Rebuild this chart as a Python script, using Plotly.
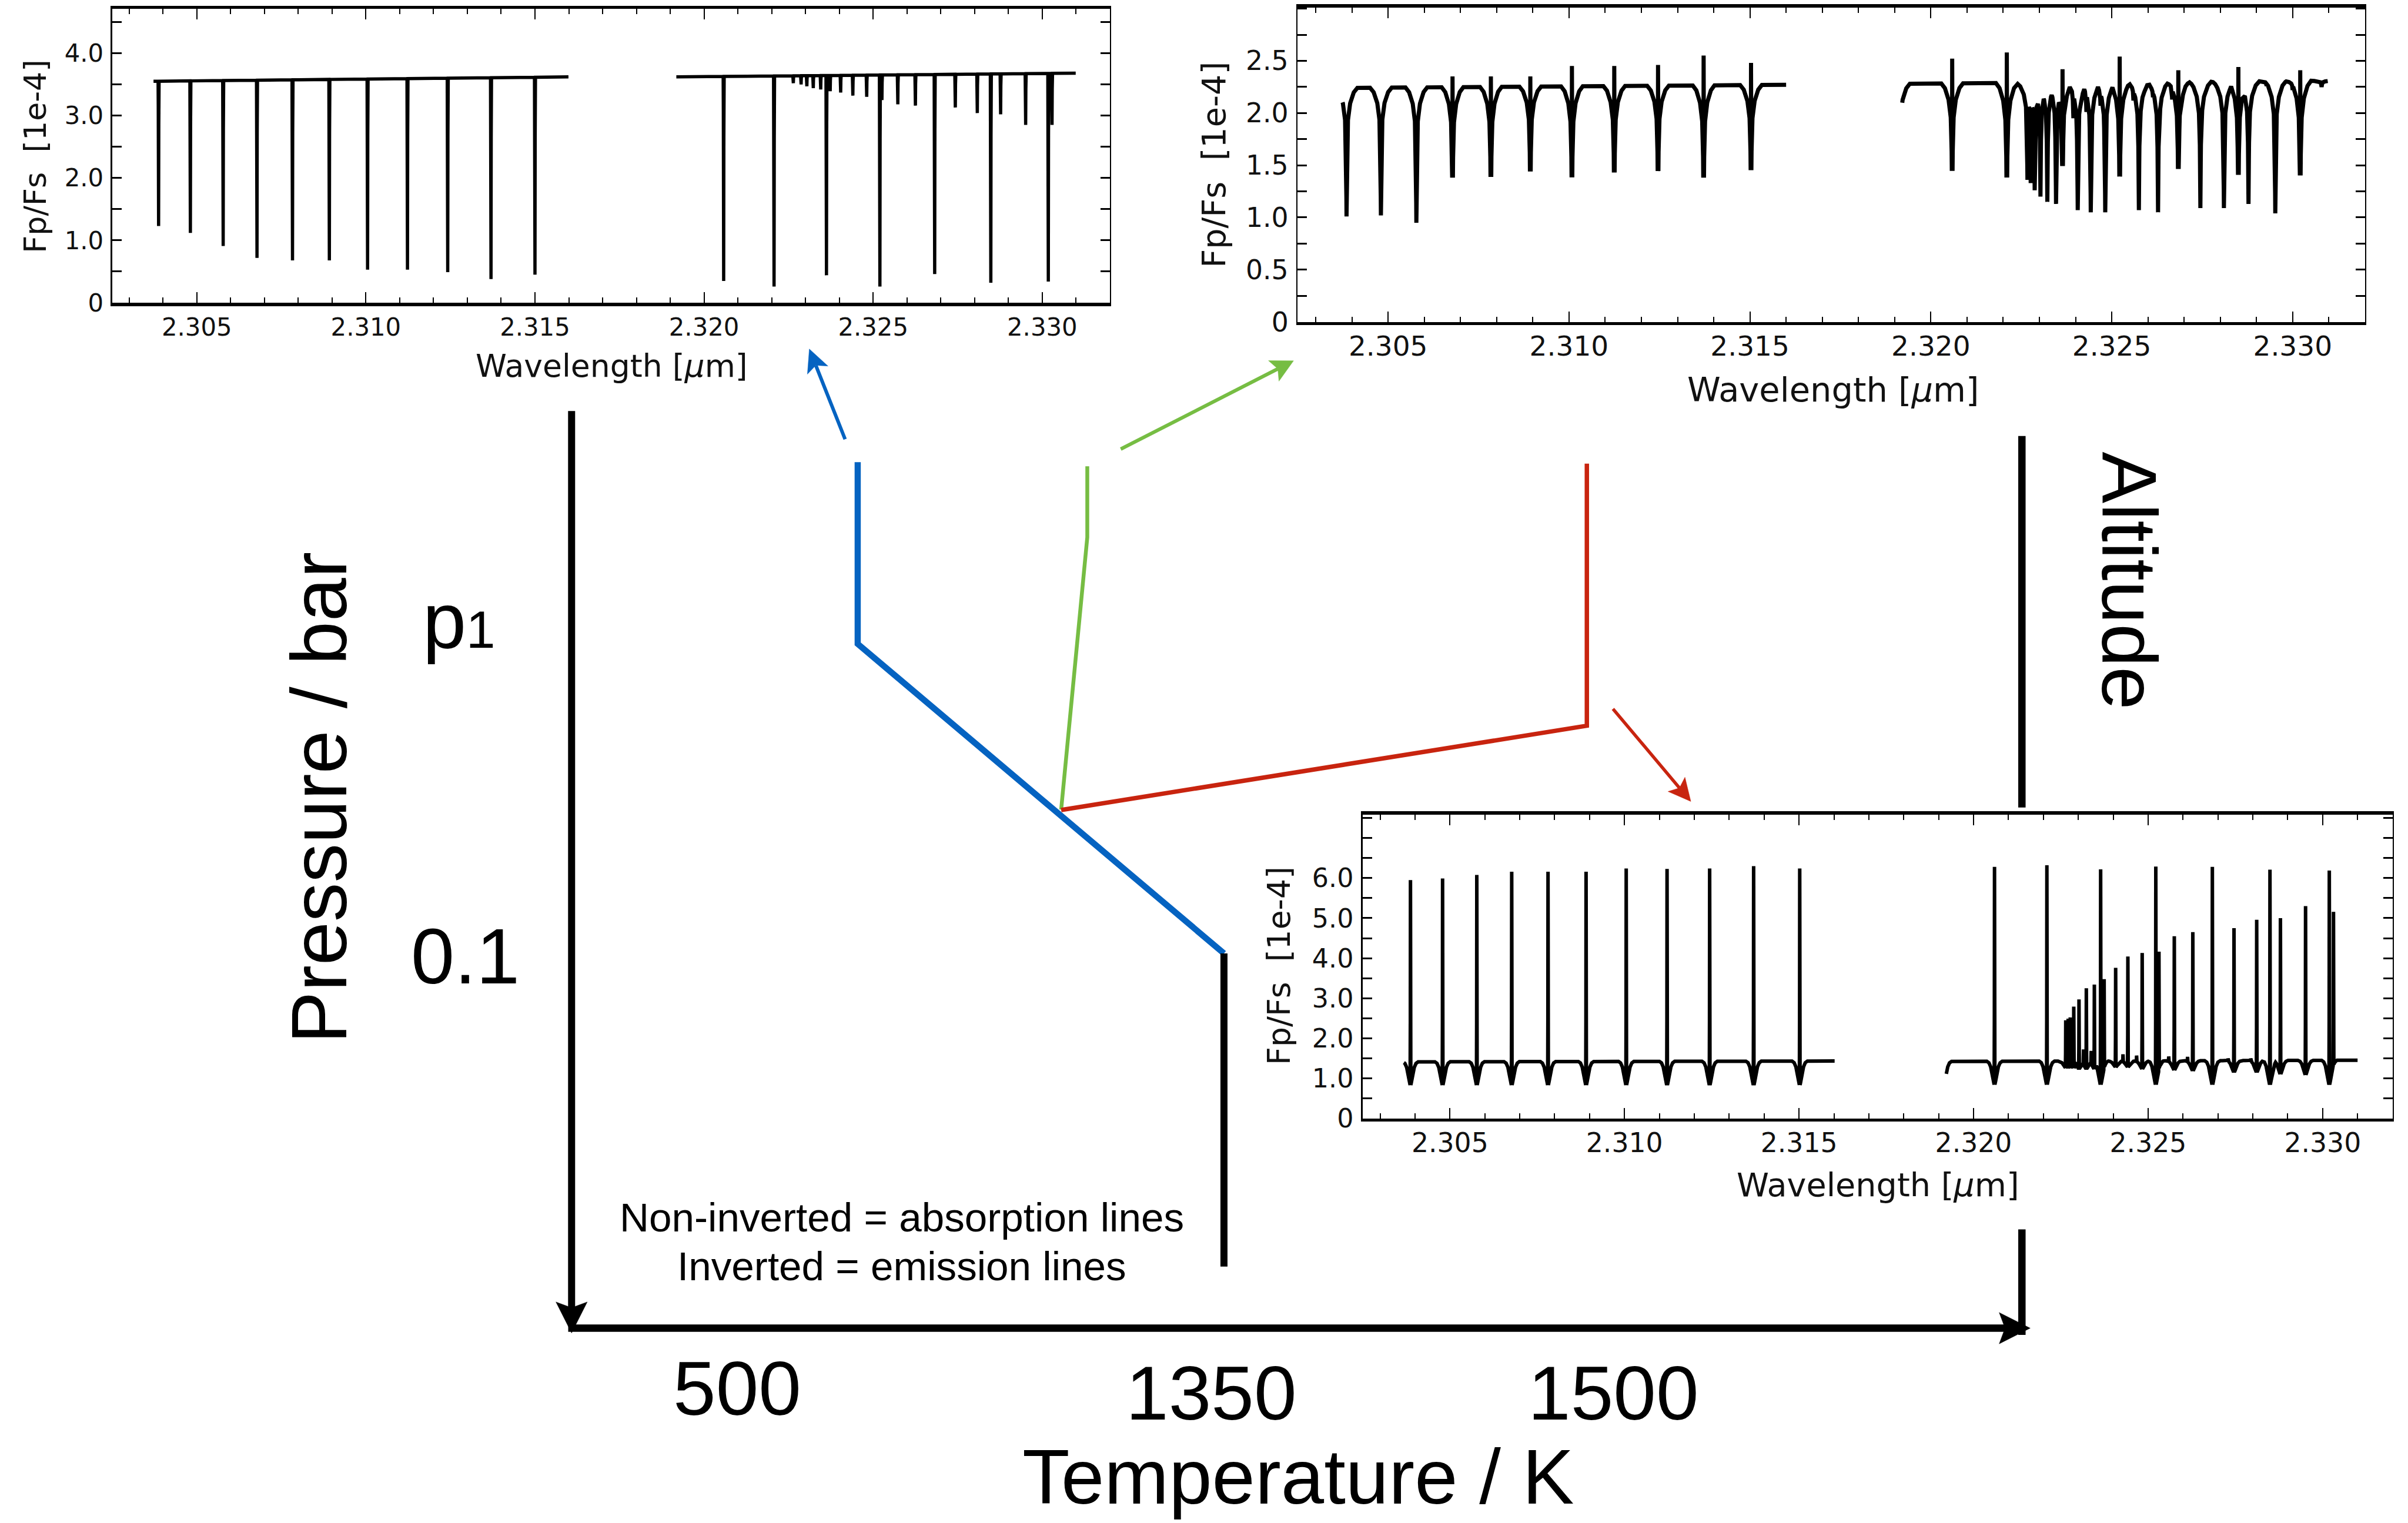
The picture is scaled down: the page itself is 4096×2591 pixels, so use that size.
import numpy as np
import plotly.graph_objects as go

PW, PH = 1568.0, 992.0
W, H = 4096, 2591
K = W / PW

WL_RANGE = [2.3025, 2.332]
WL_TICKS = [2.305, 2.310, 2.315, 2.320, 2.325, 2.330]
WL_TICKTEXT = ["2.305", "2.310", "2.315", "2.320", "2.325", "2.330"]

a_seg_lo = [2.30372, 2.31918]
a_seg_hi = [2.31599, 2.33099]
a_cont_lo = [3.55, 3.62]
a_cont_hi = [3.62, 3.68]
a_line_wl = [2.30387, 2.30481, 2.30578, 2.30678, 2.30783, 2.30892, 2.31005, 2.31123,
             2.31242, 2.31370, 2.31500,
             2.32058, 2.32207, 2.32264, 2.32287, 2.32304, 2.32323, 2.32345, 2.32362,
             2.32373, 2.32404, 2.32440, 2.32481, 2.32520, 2.32526, 2.32573, 2.32625,
             2.32682, 2.32743, 2.32808, 2.32848, 2.32877, 2.32951, 2.33018, 2.33029]
a_line_min = [1.23, 1.12, 0.91, 0.72, 0.68, 0.68, 0.53, 0.53, 0.49, 0.38, 0.45,
              0.35, 0.26, 3.52, 3.50, 3.47, 3.44, 3.42, 0.44,
              3.39, 3.37, 3.32, 3.30, 0.26, 3.25, 3.18, 3.16,
              0.46, 3.13, 3.04, 0.32, 3.02, 2.85, 0.34, 2.85]

b_seg_lo = [2.30374, 2.31921]
b_seg_hi = [2.31600, 2.33097]
b_cont_lo = [2.24, 2.28]
b_cont_hi = [2.27, 2.31]
b_line_wl = [2.30385, 2.30480, 2.30578, 2.30678, 2.30784, 2.30893, 2.31008, 2.31125,
             2.31246, 2.31372, 2.31503,
             2.31912, 2.32059, 2.32210, 2.32267, 2.32276, 2.32287, 2.32303, 2.32322, 2.32346, 2.32364,
             2.32394, 2.32406, 2.32430, 2.32442, 2.32469, 2.32482, 2.32522, 2.32560, 2.32575, 2.32614,
             2.32628, 2.32667, 2.32684, 2.32730, 2.32745, 2.32796, 2.32810, 2.32850, 2.32878, 2.32928,
             2.32952, 2.33000, 2.33021, 2.33080]
b_line_min = [1.01, 1.02, 0.95, 0.90, 0.91, 0.99, 0.90, 0.97, 0.99, 0.89, 1.00,
              1.00, 0.98, 0.88, 1.36, 1.33, 1.26, 1.20, 1.15, 1.13, 1.05,
              1.95, 1.07, 2.01, 1.05, 2.07, 1.05, 0.89, 2.12, 1.07, 2.15,
              1.05, 2.13, 1.00, 2.21, 1.09, 2.22, 1.09, 0.91, 1.13, 2.26,
              1.04, 2.22, 0.90, 2.25]
b_line_peak = [None, None, None, 2.35, 2.35, 2.35, 2.45, 2.45, 2.46, 2.55, 2.48,
               None, 2.52, 2.58, None, None, None, None, None, None, 2.42,
               None, None, None, None, None, None, 2.54, None, None, None,
               None, None, 2.41, None, None, None, None, 2.44, None, None,
               None, None, 2.41, None]

c_seg_lo = [2.30368, 2.31922]
c_seg_hi = [2.31602, 2.33100]
c_cont_lo = [1.41, 1.42]
c_cont_hi = [1.43, 1.45]
c_line_wl = [2.30387, 2.30479, 2.30577, 2.30677, 2.30781, 2.30890, 2.31005, 2.31122,
             2.31244, 2.31370, 2.31502,
             2.31915, 2.32060, 2.32210, 2.32264, 2.32271, 2.32277, 2.32287, 2.32302, 2.32315, 2.32323,
             2.32337, 2.32346, 2.32364, 2.32374, 2.32407, 2.32428, 2.32442, 2.32467, 2.32483, 2.32522,
             2.32531, 2.32559, 2.32575, 2.32613, 2.32628, 2.32684, 2.32729, 2.32746, 2.32794, 2.32811,
             2.32849, 2.32879, 2.32951, 2.33019, 2.33031]
c_line_min = [0.79, 0.79, 0.79, 0.79, 0.79, 0.79, 0.79, 0.79, 0.79, 0.79, 0.79,
              0.80, 0.80, 0.80, 1.25, 1.25, 1.25, 1.25, 1.22, None, 1.22,
              None, 1.22, 0.80, None, 1.27, None, 1.27, None, 1.22, 0.80,
              None, None, 1.19, None, 1.17, 0.80, None, 1.13, None, 1.13,
              0.80, 1.08, 1.06, 0.80, None]
c_line_peak = [5.95, 5.99, 6.08, 6.16, 6.16, 6.16, 6.24, 6.23, 6.24, 6.30, 6.24,
               None, 6.28, 6.32, 2.45, 2.49, 2.52, 2.79, 2.97, 1.81, 3.25,
               1.76, 3.34, 6.22, 3.66, 3.76, 1.62, 4.04, 1.58, 4.13, 6.29,
               4.39, 1.56, 4.55, 1.56, 4.65, 6.28, 1.51, 4.75, 1.51, 4.96,
               6.21, 5.00, 5.30, 6.19, 5.28]

NARROW_OFF = [0.0, 0.000006, 0.000015]
NARROW_FRAC = [1.0, 0.3, 0.0]
B_DIP_OFF = [0.0, 0.000008, 0.000015, 0.00004, 0.0001, 0.0002, 0.0003]
B_DIP_FRAC = [1.0, 0.7, 0.5, 0.25, 0.12, 0.035, 0.0]
C_DIP_OFF = [0.0, 0.00003, 0.00007, 0.00011, 0.00016, 0.00022]
C_DIP_FRAC = [1.0, 0.8, 0.5, 0.22, 0.06, 0.0]
CORE_OFF = [0.0, 0.000004, 0.00001]
CORE_FRAC = [1.0, 0.3, 0.0]


def build_spectrum(seg_lo, seg_hi, c_lo, c_hi, wl, mn, pk, dip_off, dip_frac,
                   core_off=CORE_OFF, core_frac=CORE_FRAC):
    wl = np.asarray(wl, float)
    mn = np.array([np.nan if v is None else v for v in mn], float)
    if pk is None:
        pk = [None] * len(wl)
    pk = np.array([np.nan if v is None else v for v in pk], float)
    offs = np.union1d(dip_off, core_off)
    offs = np.concatenate([-offs[::-1], offs])
    xs, ys = [], []
    for lo, hi, cl, ch in zip(seg_lo, seg_hi, c_lo, c_hi):
        nodes = [lo, hi]
        for c in wl:
            nodes.extend(c + offs)
        nodes = np.unique(np.clip(np.array(nodes), lo, hi))
        cont = np.interp(nodes, [lo, hi], [cl, ch])
        dip = np.zeros_like(nodes)
        core = np.zeros_like(nodes)
        for c, m, p in zip(wl, mn, pk):
            d = np.abs(nodes - c)
            cc = np.interp(c, [lo, hi], [cl, ch])
            base = cc
            if not np.isnan(m):
                dip = np.maximum(dip, (cc - m) * np.interp(d, dip_off, dip_frac, right=0.0))
                base = m
            if not np.isnan(p):
                core = np.maximum(core, (p - base) * np.interp(d, core_off, core_frac, right=0.0))
        y = cont - dip + core
        xs += list(nodes) + [None]
        ys += list(y) + [None]
    return xs, ys


blue_x = [558.5, 558.5, 797.0]
blue_y = [301.0, 419.4, 621.0]
green_x = [708.0, 708.0, 691.0]
green_y = [303.7, 350.0, 527.3]
red_x = [1033.3, 1033.3, 691.0]
red_y = [302.0, 472.7, 527.6]
iso_x = [797.0, 797.0]
iso_y = [621.0, 825.0]
p_axis_x = [372.2, 372.2]
p_axis_y = [267.7, 868.2]
t_axis_x = [370.0, 1322.0]
t_axis_y = [865.1, 865.1]
alt_x = [1316.6, 1316.6]
alt_y_upper = [284.0, 526.0]
alt_y_lower = [800.8, 869.5]
blue_arrow = [(550.3, 286.1), (527.0, 227.3)]
green_arrow = [(729.8, 292.5), (842.3, 235.0)]
red_arrow = [(1050.3, 461.7), (1101.0, 522.0)]

BLUE = "#0563C1"
GREEN = "#76BD43"
RED = "#C8240F"

fig = go.Figure()


def line(x, y, color, width):
    fig.add_trace(go.Scatter(x=x, y=y, mode="lines", xaxis="x", yaxis="y",
                             line=dict(color=color, width=width), hoverinfo="skip",
                             showlegend=False))


def arrow(tail, tip, color, shaft_w, head_len, head_hw, notch):
    t = np.array(tail, float)
    p = np.array(tip, float)
    d = (p - t) / np.linalg.norm(p - t)
    n = np.array([-d[1], d[0]])
    base = p - head_len * d
    notch_pt = p - notch * d
    b1 = base + head_hw * n
    b2 = base - head_hw * n
    if shaft_w > 0:
        line([t[0], notch_pt[0]], [t[1], notch_pt[1]], color, shaft_w)
    poly = [p, b1, notch_pt, b2, p]
    fig.add_trace(go.Scatter(x=[q[0] for q in poly], y=[q[1] for q in poly], mode="lines",
                             fill="toself", fillcolor=color, line=dict(color=color, width=0.5),
                             xaxis="x", yaxis="y", hoverinfo="skip", showlegend=False))


line(blue_x, blue_y, BLUE, 10.5)
line(green_x, green_y, GREEN, 6.5)
line(red_x, red_y, RED, 7.5)
line(iso_x, iso_y, "black", 12)
line(p_axis_x, [p_axis_y[0], p_axis_y[1] - 15.0], "black", 12)
line([t_axis_x[0], t_axis_x[1] - 15.0], t_axis_y, "black", 12.5)
arrow((p_axis_x[0], p_axis_y[0]), (p_axis_x[1], p_axis_y[1]), "black", 0, 20.2, 10.2, 16.4)
arrow((t_axis_x[0], t_axis_y[0]), (t_axis_x[1], t_axis_y[1]), "black", 0, 20.2, 10.2, 16.4)
line(alt_x, alt_y_upper, "black", 12.5)
line(alt_x, alt_y_lower, "black", 12.5)
arrow(blue_arrow[0], blue_arrow[1], BLUE, 6, 14.8, 7.2, 11.5)
arrow(green_arrow[0], green_arrow[1], GREEN, 6, 14.5, 7.5, 11.5)
arrow(red_arrow[0], red_arrow[1], RED, 5.5, 14.5, 7.2, 11.5)

panels = [
    dict(box=(73.1, 722.7, 5.8, 197.2), yr=[0, 4.71], lw=5.5, xso=0,
         ytv=[0, 1, 2, 3, 4], ytt=["0", "1.0", "2.0", "3.0", "4.0"], ymin=0.5,
         spec=build_spectrum(a_seg_lo, a_seg_hi, a_cont_lo, a_cont_hi, a_line_wl, a_line_min,
                             None, NARROW_OFF, NARROW_FRAC),
         xfont=16.0, yfont=16.0, ytitle=(23.0, 102.1, 20.0), xtitle=(398.3, 238.5, 20.5)),
    dict(box=(845.0, 1540.0, 4.9, 209.7), yr=[0, 3.01], lw=7.0, xso=-5,
         ytv=[0, 0.5, 1.0, 1.5, 2.0, 2.5], ytt=["0", "0.5", "1.0", "1.5", "2.0", "2.5"], ymin=0.25,
         spec=build_spectrum(b_seg_lo, b_seg_hi, b_cont_lo, b_cont_hi, b_line_wl, b_line_min,
                             b_line_peak, B_DIP_OFF, B_DIP_FRAC),
         xfont=18.0, yfont=17.5, ytitle=(790.3, 107.3, 21.3), xtitle=(1193.5, 254.0, 22.0)),
    dict(box=(887.3, 1557.9, 530.5, 728.4), yr=[0, 7.59], lw=6.0, xso=-3,
         ytv=[0, 1, 2, 3, 4, 5, 6], ytt=["0", "1.0", "2.0", "3.0", "4.0", "5.0", "6.0"], ymin=0.5,
         spec=build_spectrum(c_seg_lo, c_seg_hi, c_cont_lo, c_cont_hi, c_line_wl, c_line_min,
                             c_line_peak, C_DIP_OFF, C_DIP_FRAC),
         xfont=17.5, yfont=17.0, ytitle=(833.0, 629.0, 20.5), xtitle=(1222.9, 771.5, 21.3)),
]

layout = dict(
    width=W, height=H, autosize=False,
    margin=dict(l=0, r=0, t=0, b=0, pad=0, autoexpand=False),
    paper_bgcolor="white", plot_bgcolor="white",
    showlegend=False,
    xaxis=dict(domain=[0, 1], range=[0, PW], visible=False, fixedrange=True),
    yaxis=dict(domain=[0, 1], range=[PH, 0], visible=False, fixedrange=True),
)

annotations = []
for i, pnl in enumerate(panels, start=2):
    x0, x1, y0, y1 = pnl["box"]
    xs, ys = pnl["spec"]
    fig.add_trace(go.Scatter(x=xs, y=ys, mode="lines", xaxis=f"x{i}", yaxis=f"y{i}",
                             line=dict(color="black", width=pnl["lw"]), hoverinfo="skip",
                             showlegend=False, connectgaps=False))
    layout[f"xaxis{i}"] = dict(
        domain=[x0 / PW, x1 / PW], range=WL_RANGE, anchor=f"y{i}",
        showline=True, linecolor="black", linewidth=5.5, mirror="allticks",
        ticks="inside", ticklen=18, tickwidth=2, tickcolor="black",
        tickmode="array", tickvals=WL_TICKS, ticktext=WL_TICKTEXT,
        tickfont=dict(family="DejaVu Sans", size=pnl["xfont"] * K, color="#111"),
        ticklabelstandoff=pnl["xso"],
        minor=dict(dtick=0.001, tick0=2.3, ticks="inside", ticklen=9, tickwidth=2,
                   tickcolor="black", showgrid=False),
        showgrid=False, zeroline=False, fixedrange=True)
    layout[f"yaxis{i}"] = dict(
        domain=[1 - y1 / PH, 1 - y0 / PH], range=pnl["yr"], anchor=f"x{i}",
        showline=True, linecolor="black", linewidth=2.5, mirror="allticks",
        ticks="inside", ticklen=16, tickwidth=3, tickcolor="black",
        tickmode="array", tickvals=pnl["ytv"], ticktext=pnl["ytt"],
        tickfont=dict(family="DejaVu Sans", size=pnl["yfont"] * K, color="#111"),
        ticklabelstandoff=4,
        minor=dict(dtick=pnl["ymin"], tick0=0, ticks="inside", ticklen=16, tickwidth=3,
                   tickcolor="black", showgrid=False),
        showgrid=False, zeroline=False, fixedrange=True)
    tx, ty, tf = pnl["ytitle"]
    annotations.append(dict(text="Fp/Fs\u00a0\u00a0[1e-4]", x=tx, y=ty, xref="x", yref="y",
                            showarrow=False, textangle=-90, xanchor="center", yanchor="middle",
                            font=dict(family="DejaVu Sans", size=tf * K, color="#111")))
    tx, ty, tf = pnl["xtitle"]
    annotations.append(dict(text="Wavelength [<i>\u03bc</i>m]", x=tx, y=ty, xref="x", yref="y",
                            showarrow=False, xanchor="center", yanchor="middle",
                            font=dict(family="DejaVu Sans", size=tf * K, color="#111")))

MAIN_FONT = "Liberation Sans, Arial, sans-serif"
main_texts = [
    ("Pressure / bar", 207.8, 519.4, 51.0, -90),
    ("p<span style='font-size:%dpx'>1</span>" % round(34 * K), 299.0, 404.3, 51.0, 0),
    ("0.1", 302.9, 622.6, 51.0, 0),
    ("500", 480.0, 904.3, 50.0, 0),
    ("1350", 788.8, 907.2, 50.0, 0),
    ("1500", 1050.5, 907.2, 50.0, 0),
    ("Temperature / K", 845.2, 962.0, 50.5, 0),
    ("Non-inverted = absorption lines", 587.4, 793.1, 26.5, 0),
    ("Inverted = emission lines", 587.4, 824.6, 26.5, 0),
    ("Altitude", 1386.2, 378.1, 50.4, 90),
]
for txt, x, y, fs, ang in main_texts:
    annotations.append(dict(text=txt, x=x, y=y, xref="x", yref="y", showarrow=False,
                            textangle=ang, xanchor="center", yanchor="middle",
                            font=dict(family=MAIN_FONT, size=fs * K, color="black")))

layout["annotations"] = annotations
fig.update_layout(**layout)
fig.write_html("out.html", include_plotlyjs=True, full_html=True,
               config={"displayModeBar": False, "staticPlot": True})
